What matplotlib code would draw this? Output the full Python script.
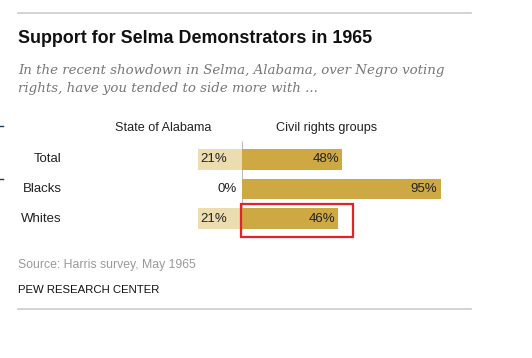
import matplotlib
matplotlib.use("Agg")
import matplotlib.pyplot as plt
from matplotlib.patches import Rectangle

# Data
groups = ["Total", "Blacks", "Whites"]
alabama = [21, 0, 21]
civil_rights = [48, 95, 46]
col_headers = ["State of Alabama", "Civil rights groups"]

W, H = 532, 358
light = "#ebddaf"
dark = "#cea843"
sans = "Liberation Sans"

fig = plt.figure(figsize=(W / 100, H / 100), dpi=100)


def fx(x):
    return x / W


def fy(y):
    return 1 - y / H


# bar axes: 0% at x=242px, 2.09 px per percent, rows 29.5px apart
ax_l, ax_r, ax_t, ax_b = 150, 460, 141, 235
ax = fig.add_axes([fx(ax_l), fy(ax_b), (ax_r - ax_l) / W, (ax_b - ax_t) / H])
ppp = 2.09
ax.set_xlim((ax_l - 242) / ppp, (ax_r - 242) / ppp)
row_px = 29.5
ax.set_ylim(2 + (ax_b - 218.5) / row_px, -(159.5 - ax_t) / row_px)
ax.axis("off")

ypos = range(len(groups))
ax.barh(ypos, [-v for v in alabama], height=0.71, color=light, zorder=2)
ax.barh(ypos, civil_rights, height=0.71, color=dark, zorder=2)
ax.vlines(0, -(159.5 - ax_t) / row_px, 2.36, color="#bbbbbb", lw=0.8, zorder=1)

for i, (a, c) in enumerate(zip(alabama, civil_rights)):
    if a > 0:
        ax.text(-a + 1, i, f"{a}%", ha="left", va="center", fontsize=9.5,
                family=sans, color="#222222", zorder=3)
    else:
        ax.text(-2.3, i, f"{a}%", ha="right", va="center", fontsize=9.5,
                family=sans, color="#222222", zorder=3)
    ax.text(c - 1.5, i, f"{c}%", ha="right", va="center", fontsize=9.5,
            family=sans, color="#222222", zorder=3)
    ax.text((62 - 242) / ppp, i, groups[i], ha="right", va="center", fontsize=9.5,
            family=sans, color="#222222")

# column headers
fig.text(fx(163), fy(131), col_headers[0], ha="center", va="baseline",
         fontsize=9.1, family=sans, color="#222222")
fig.text(fx(327), fy(131), col_headers[1], ha="center", va="baseline",
         fontsize=9.1, family=sans, color="#222222")

# title and subtitle
fig.text(fx(18), fy(43), "Support for Selma Demonstrators in 1965", ha="left",
         va="baseline", fontsize=12.9, fontweight="bold", family=sans,
         color="#111111")
fig.text(fx(18), fy(74), "In the recent showdown in Selma, Alabama, over Negro voting",
         ha="left", va="baseline", fontsize=9.6, style="italic", family="DejaVu Serif",
         color="#777777")
fig.text(fx(18), fy(92), "rights, have you tended to side more with ...",
         ha="left", va="baseline", fontsize=9.6, style="italic", family="DejaVu Serif",
         color="#777777")

# source / credit
fig.text(fx(18), fy(268), "Source: Harris survey, May 1965", ha="left", va="baseline",
         fontsize=8.8, family=sans, color="#999999")
fig.text(fx(18), fy(293), "PEW RESEARCH CENTER", ha="left", va="baseline",
         fontsize=8.2, family=sans, color="#111111")

# rules
for yy in (13, 309):
    fig.add_artist(plt.Line2D([fx(18), fx(471)], [fy(yy), fy(yy)], color="#cccccc",
                              lw=1.2, transform=fig.transFigure))

# stray marks at left edge
for yy in (126, 179):
    fig.add_artist(plt.Line2D([0, fx(3)], [fy(yy), fy(yy)], color="#1f3a5a",
                              lw=1, transform=fig.transFigure))

# red highlight box around Whites / civil rights bar
fig.add_artist(Rectangle((fx(241), fy(237)), (353 - 241) / W, (237 - 204) / H,
                         fill=False, edgecolor="#e8202a", lw=1.6,
                         transform=fig.transFigure))

fig.savefig("out.png", dpi=100)
